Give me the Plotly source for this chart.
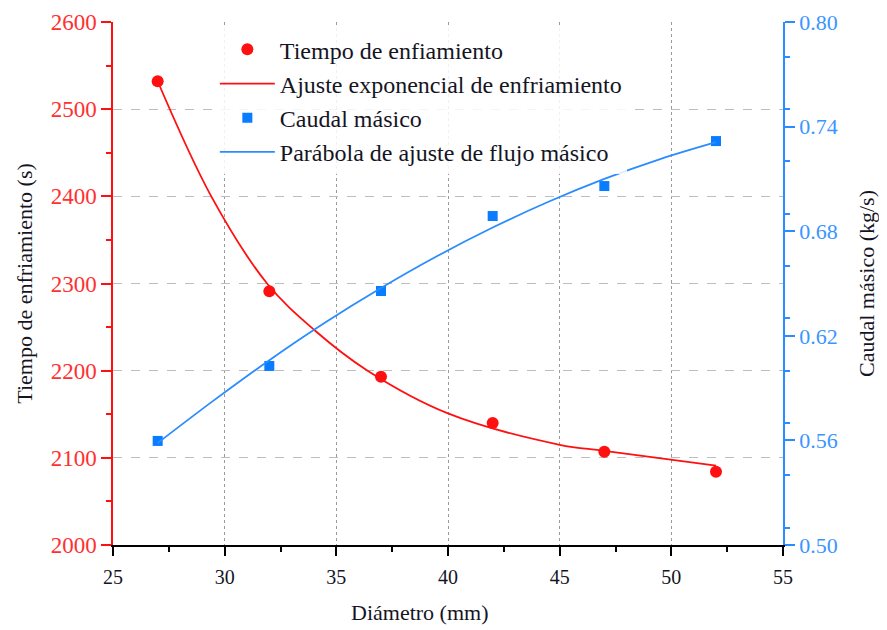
import plotly.graph_objects as go

# Data
diametro = [27, 32, 37, 42, 47, 52]
tiempo = [2532, 2291, 2193, 2140, 2107, 2084]
caudal = [0.5597, 0.6027, 0.6457, 0.6887, 0.7059, 0.7317]

# Fitted curves as drawn in the reference (sampled along the drawn lines)
fit_exp_x = [27, 29.4, 31.9, 34, 36.4, 40, 45, 47, 52]
fit_exp_y = [2532, 2400, 2300, 2247, 2200, 2151, 2115, 2108, 2091]
fit_par_x = [27, 29.5, 32, 34.5, 37, 39.5, 42, 44.5, 47, 49.5, 52]
fit_par_y = [0.5585, 0.5828, 0.6060, 0.6276, 0.6474, 0.6656, 0.6821, 0.6969, 0.7100, 0.7214, 0.7311]

RED = "#ff1010"
BLUE = "#0a7cff"
BLUE_AX = "#2a8cff"
SERIF = "Liberation Serif, Times New Roman, serif"
TXT = "#15151f"

fig = go.Figure()
fig.add_trace(go.Scatter(x=diametro, y=tiempo, mode="markers", name="Tiempo de enfiamiento",
                         marker=dict(symbol="circle", size=12, color=RED),
                         legendgroup="a", yaxis="y"))
fig.add_trace(go.Scatter(x=fit_exp_x, y=fit_exp_y, mode="lines", name="Ajuste exponencial de enfriamiento",
                         line=dict(color=RED, width=1.8, shape="spline", smoothing=1.0),
                         legendgroup="b", yaxis="y"))
fig.add_trace(go.Scatter(x=diametro, y=caudal, mode="markers", name="Caudal másico",
                         marker=dict(symbol="square", size=10, color=BLUE),
                         legendgroup="c", yaxis="y2"))
fig.add_trace(go.Scatter(x=fit_par_x, y=fit_par_y, mode="lines", name="Parábola de ajuste de flujo másico",
                         line=dict(color=BLUE_AX, width=1.8, shape="spline", smoothing=1.0),
                         legendgroup="d", yaxis="y2"))

fig.update_layout(
    width=879, height=622,
    margin=dict(l=105, r=104, t=14, b=85, autoexpand=False),
    paper_bgcolor="white", plot_bgcolor="white",
    font=dict(family=SERIF, color=TXT),
    showlegend=True,
    legend=dict(x=0.152, y=0.99, xanchor="left", yanchor="top",
                bgcolor="rgba(255,255,255,0.85)", borderwidth=0,
                font=dict(family=SERIF, size=24, color=TXT),
                traceorder="grouped", tracegroupgap=0, itemwidth=55),
    xaxis=dict(range=[25, 55], dtick=5, tick0=25, showline=True, linecolor="black", linewidth=1.5,
               automargin=False,
               ticks="outside", ticklen=9, tickwidth=1.5, tickcolor="black", ticklabelstandoff=4,
               minor=dict(dtick=2.5, ticks="outside", ticklen=5, tickcolor="black", showgrid=False),
               showgrid=True, gridcolor="#9a9a9a", griddash="dot", gridwidth=1,
               zeroline=False, tickfont=dict(family=SERIF, size=20, color=TXT)),
    xaxis2=dict(range=[25, 55], dtick=5, tick0=25, overlaying="x", side="top", showline=True,
                automargin=False,
                linecolor="black", linewidth=1.5, ticks="inside", ticklen=9, tickwidth=1.5,
                tickcolor="black", showticklabels=False, showgrid=False, zeroline=False,
                minor=dict(dtick=2.5, ticks="inside", ticklen=5, tickcolor="black", showgrid=False)),
    yaxis=dict(range=[2000, 2600], dtick=100, tick0=2000, showline=True, linecolor=RED, linewidth=1.5,
               automargin=False,
               ticks="outside", ticklen=10, tickwidth=1.5, tickcolor=RED, ticklabelstandoff=0,
               minor=dict(dtick=50, ticks="outside", ticklen=5, tickcolor=RED, showgrid=False),
               showgrid=True, gridcolor="#bdbdbd", griddash="dash", gridwidth=1, zeroline=False,
               tickfont=dict(family=SERIF, size=23, color="#ff3030"),
               title=dict(text="Tiempo de enfriamiento (s)", standoff=12,
                          font=dict(family=SERIF, size=22, color=TXT))),
    yaxis2=dict(range=[0.5, 0.8], dtick=0.06, tick0=0.5, overlaying="y", side="right",
                automargin=False,
                showline=True, linecolor=BLUE_AX, linewidth=1.5, tickformat=".2f",
                ticks="outside", ticklen=10, tickwidth=1.5, tickcolor=BLUE_AX, ticklabelstandoff=0,
                minor=dict(dtick=0.03, ticks="outside", ticklen=5, tickcolor=BLUE_AX, showgrid=False),
                showgrid=False, zeroline=False,
                tickfont=dict(family=SERIF, size=22, color="#3a95ff"),
                title=dict(text="Caudal másico (kg/s)", standoff=22,
                           font=dict(family=SERIF, size=22, color=TXT))),
    annotations=[dict(text="Diámetro (mm)", xref="paper", yref="paper", x=0.458, y=-0.129,
                      xanchor="center", yanchor="middle", showarrow=False,
                      font=dict(family=SERIF, size=22, color=TXT))],
)

fig.write_html("out.html")
